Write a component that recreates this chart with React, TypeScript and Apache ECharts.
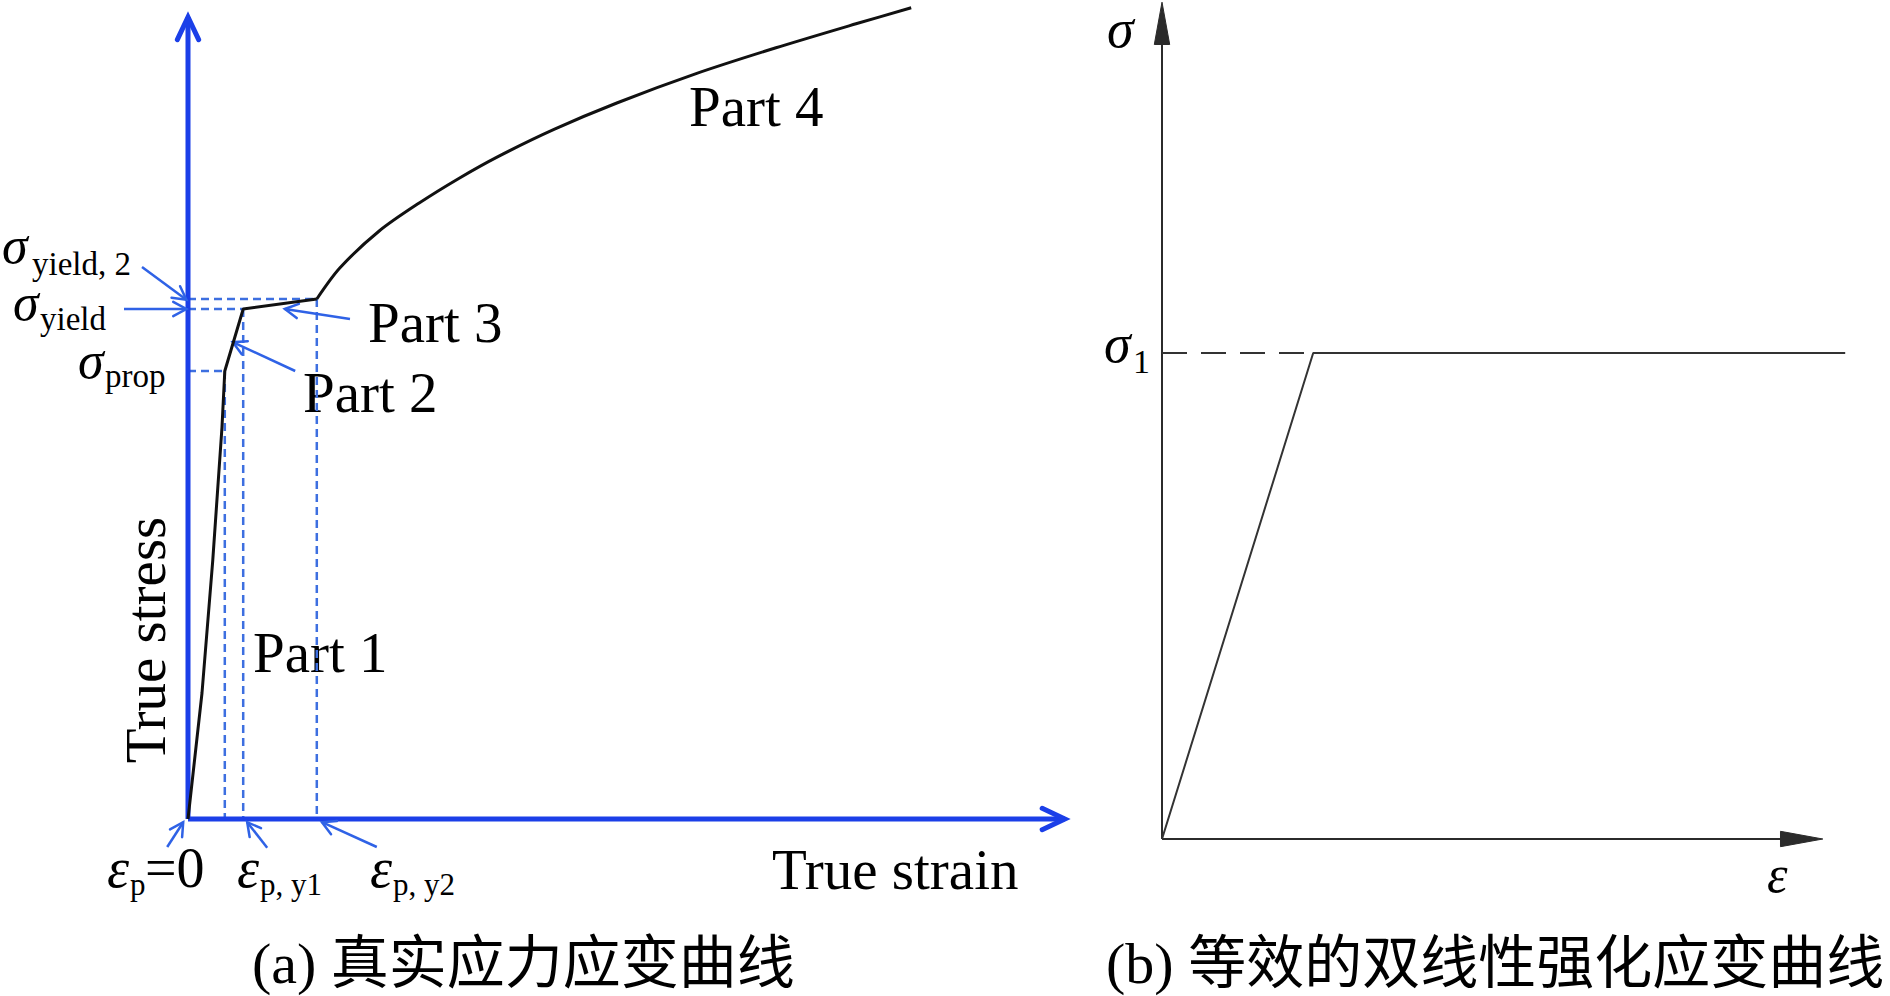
import React, { useEffect, useRef } from "react";
import * as echarts from "echarts";

// ---------- data (left panel: true stress-strain schematic) ----------
const curveParts123: number[][] = [
  [0, 0], [1.75, 15.75], [3.1, 32.4], [4.25, 49], [4.6, 56], [6.9, 63.75], [16.1, 65],
];
const curvePart4: number[][] = [
  [16.1, 65], [19, 68.9], [23.9, 73.5], [28.9, 77.0], [33.9, 80.1], [38.75, 82.8],
  [45.75, 86.2], [53.6, 89.5], [63.6, 93.2], [73.5, 96.4], [83.5, 99.4], [90.4, 101.4],
];
const guideSegments: number[][][] = [
  [[0, 65], [16.1, 65]],
  [[0, 63.75], [6.9, 63.75]],
  [[0, 56], [4.6, 56]],
  [[4.6, 56], [4.6, 0]],
  [[6.9, 63.75], [6.9, 0]],
  [[16.1, 65], [16.1, 0]],
];
const leftAxisArrows: number[][] = [
  [0, 0, 0, 100.25],
  [0, 0, 109.6, 0],
];
const annotationArrows: number[][] = [
  [-5.75, 69, -0.2, 64.9],
  [-8, 63.75, -0.2, 63.75],
  [20.25, 62.5, 12.1, 63.75],
  [13.4, 56, 5.6, 59.6],
  [-2.6, -3.5, -0.6, -0.4],
  [9.9, -3.6, 7.4, -0.4],
  [23.6, -3.5, 16.75, -0.4],
];

// ---------- data (right panel: equivalent bilinear curve) ----------
const bilinearCurve: number[][] = [[0, 0], [18.9, 60.75], [85.4, 60.75]];
const sigma1Dashed: number[][] = [[0, 60.75], [18.9, 60.75]];
const rightAxisArrows: number[][] = [
  [0, 0, 0, 104.6],
  [0, 0, 82.6, 0],
];

// ---------- texts ----------
const partLabels = ["Part 1", "Part 2", "Part 3", "Part 4"];
const xAxisTitle = "True strain";
const yAxisTitle = "True stress";
const captionA = "(a) 真实应力应变曲线";
const captionB = "(b) 等效的双线性强化应变曲线";

const SERIF = "'Liberation Serif', 'Times New Roman', serif";
const CAPTION_FONT = "'Liberation Serif', 'Noto Sans CJK SC', serif";
const AXIS_BLUE = "#1b3fe8";
const GUIDE_BLUE = "#3d6fe0";
const ANNOT_BLUE = "#2f62e6";

function arrowRenderer(opts: { len: number; angle: number; color: string; width: number; filled: boolean }) {
  return (params: any, api: any) => {
    const a = api.coord([api.value(0), api.value(1)]);
    const b = api.coord([api.value(2), api.value(3)]);
    const ang = Math.atan2(b[1] - a[1], b[0] - a[0]);
    const L = opts.len;
    const t = opts.angle;
    const p1 = [b[0] - L * Math.cos(ang - t), b[1] - L * Math.sin(ang - t)];
    const p2 = [b[0] - L * Math.cos(ang + t), b[1] - L * Math.sin(ang + t)];
    const lineEnd = opts.filled
      ? [b[0] - L * 0.8 * Math.cos(ang), b[1] - L * 0.8 * Math.sin(ang)]
      : b;
    const children: any[] = [
      {
        type: "line",
        shape: { x1: a[0], y1: a[1], x2: lineEnd[0], y2: lineEnd[1] },
        style: { stroke: opts.color, lineWidth: opts.width, lineCap: "butt" },
      },
    ];
    if (opts.filled) {
      children.push({
        type: "polygon",
        shape: { points: [p1, b, p2] },
        style: { fill: opts.color, stroke: opts.color, lineWidth: 1 },
      });
    } else {
      children.push({
        type: "polyline",
        shape: { points: [p1, b, p2] },
        style: { stroke: opts.color, lineWidth: opts.width, fill: "none", lineJoin: "miter", lineCap: "round" },
      });
    }
    return { type: "group", children };
  };
}

function txt(text: string, x: number, y: number, fontSize: number, extra: any = {}) {
  return {
    type: "text",
    x,
    y,
    rotation: extra.rotation || 0,
    style: {
      text,
      fill: extra.fill || "#000",
      fontSize,
      lineHeight: extra.lineHeight || undefined,
      fontFamily: extra.fontFamily || SERIF,
      fontStyle: extra.italic ? "italic" : "normal",
      align: extra.align || "left",
      verticalAlign: "middle",
    },
  };
}

export default function App() {
  const ref = useRef<HTMLDivElement>(null);
  useEffect(() => {
    if (!ref.current) return;
    const chart = echarts.init(ref.current, null, { renderer: "svg" });

    const guideSeries = guideSegments.map((seg) => ({
      type: "line",
      xAxisIndex: 0,
      yAxisIndex: 0,
      data: seg,
      symbol: "none",
      silent: true,
      clip: false,
      lineStyle: { color: GUIDE_BLUE, width: 2.5, type: [8, 5] },
      z: 2,
    }));

    const option: any = {
      animation: false,
      backgroundColor: "#ffffff",
      grid: [
        { left: 188, top: 3, width: 880, height: 816, containLabel: false },
        { left: 1162, top: 7, width: 720, height: 832, containLabel: false },
      ],
      xAxis: [
        { gridIndex: 0, type: "value", min: 0, max: 110, show: false },
        { gridIndex: 1, type: "value", min: 0, max: 90, show: false },
      ],
      yAxis: [
        { gridIndex: 0, type: "value", min: 0, max: 102, show: false },
        { gridIndex: 1, type: "value", min: 0, max: 104, show: false },
      ],
      series: [
        ...guideSeries,
        {
          type: "custom",
          xAxisIndex: 0,
          yAxisIndex: 0,
          clip: false,
          silent: true,
          renderItem: arrowRenderer({ len: 25, angle: 0.44, color: AXIS_BLUE, width: 5, filled: false }),
          data: leftAxisArrows,
          z: 3,
        },
        {
          type: "custom",
          xAxisIndex: 0,
          yAxisIndex: 0,
          clip: false,
          silent: true,
          renderItem: arrowRenderer({ len: 15, angle: 0.5, color: ANNOT_BLUE, width: 2.5, filled: false }),
          data: annotationArrows,
          z: 4,
        },
        {
          type: "line",
          xAxisIndex: 0,
          yAxisIndex: 0,
          data: curveParts123,
          symbol: "none",
          clip: false,
          lineStyle: { color: "#111111", width: 3 },
          z: 5,
        },
        {
          type: "line",
          xAxisIndex: 0,
          yAxisIndex: 0,
          data: curvePart4,
          symbol: "none",
          smooth: 0.3,
          clip: false,
          lineStyle: { color: "#111111", width: 3 },
          z: 5,
        },
        {
          type: "custom",
          xAxisIndex: 1,
          yAxisIndex: 1,
          clip: false,
          silent: true,
          renderItem: arrowRenderer({ len: 43, angle: 0.18, color: "#2b2b2b", width: 2, filled: true }),
          data: rightAxisArrows,
          z: 3,
        },
        {
          type: "line",
          xAxisIndex: 1,
          yAxisIndex: 1,
          data: sigma1Dashed,
          symbol: "none",
          clip: false,
          lineStyle: { color: "#333333", width: 2, type: [25, 14] },
        },
        {
          type: "line",
          xAxisIndex: 1,
          yAxisIndex: 1,
          data: bilinearCurve,
          symbol: "none",
          clip: false,
          lineStyle: { color: "#333333", width: 2 },
        },
      ],
      graphic: [
        // part labels
        txt(partLabels[3], 689, 106, 57),
        txt(partLabels[2], 368, 322, 57),
        txt(partLabels[1], 303, 392, 57),
        txt(partLabels[0], 253, 652, 57),
        txt(xAxisTitle, 772, 869, 57),
        txt(yAxisTitle, 145, 640, 57, { rotation: Math.PI / 2, align: "center" }),
        // stress labels
        txt("σ", 2, 245, 52, { italic: true }),
        txt("yield, 2", 32, 264, 33),
        txt("σ", 13, 302, 52, { italic: true }),
        txt("yield", 40, 319, 33),
        txt("σ", 78, 360, 52, { italic: true }),
        txt("prop", 105, 376, 33),
        // strain labels
        txt("ε", 107, 868, 56, { italic: true }),
        txt("p", 130, 884, 31),
        txt("=0", 145, 868, 56),
        txt("ε", 237, 868, 56, { italic: true }),
        txt("p, y1", 260, 884, 31),
        txt("ε", 370, 868, 56, { italic: true }),
        txt("p, y2", 393, 884, 31),
        // right panel labels
        txt("σ", 1107, 29, 54, { italic: true, lineHeight: 40 }),
        txt("σ", 1104, 344, 54, { italic: true }),
        txt("1", 1133, 361, 34),
        txt("ε", 1767, 874, 52, { italic: true }),
        // captions
        txt(captionA, 252, 963, 58, { fontFamily: CAPTION_FONT }),
        txt(captionB, 1106, 963, 58, { fontFamily: CAPTION_FONT }),
      ],
    };
    chart.setOption(option);
    return () => chart.dispose();
  }, []);
  return (
    <div
      ref={ref}
      style={{ position: "fixed", left: 0, top: 0, width: 1890, height: 996, background: "#fff" }}
    />
  );
}
